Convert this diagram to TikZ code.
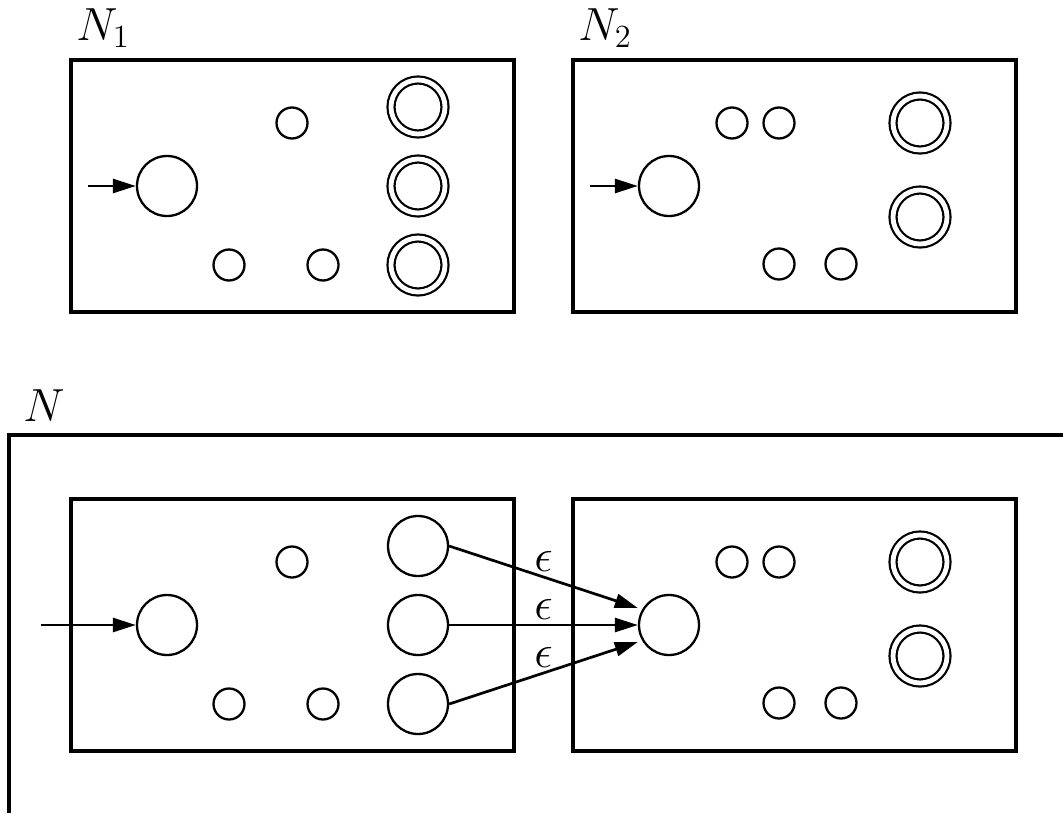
\documentclass[tikz,border=0pt]{standalone}
\usepackage{graphicx}
\usetikzlibrary{arrows.meta}
\newcommand{\biglbl}[1]{\scalebox{1.12}{#1}}
\begin{document}
\begin{tikzpicture}[x=0.5pt,y=-0.5pt,
  box/.style={draw, line width=2pt, rectangle, minimum width=221.5pt, minimum height=126pt, inner sep=0pt},
  big/.style={draw, circle, line width=1.15pt, minimum size=30pt, inner sep=0pt},
  small/.style={draw, circle, line width=1.15pt, minimum size=15.5pt, inner sep=0pt},
  acc/.style={draw, circle, line width=1.1pt, double, double distance=2.4pt, minimum size=27pt, inner sep=0pt},
  tr/.style={-{Triangle[length=11.5pt,width=7pt]}, line width=1.35pt},
  lbl/.style={font=\huge, inner sep=0pt},
  eps/.style={font=\huge, inner sep=2pt},
]
\useasboundingbox (0,0) rectangle (1063,813);

% ---------- top: N1 ----------
\node[box] (b1) at (292.5,186) {};
\node[lbl, anchor=base west] (l1) at (76,41) {\biglbl{$N_1$}};
\node[big] (s1) at (167,186) {};
\coordinate (i1) at (88,186);
\draw[tr] (i1) -- (s1);
\node[small] (p1) at (292,123) {};
\node[small] (p2) at (229,265) {};
\node[small] (p3) at (323,265) {};
\node[acc] (f1) at (418,107) {};
\node[acc] (f2) at (418,186) {};
\node[acc] (f3) at (418,265) {};

% ---------- top: N2 ----------
\node[box] (b2) at (794.5,186) {};
\node[lbl, anchor=base west] (l2) at (578,41) {\biglbl{$N_2$}};
\node[big] (s2) at (669,186) {};
\coordinate (i2) at (590,186);
\draw[tr] (i2) -- (s2);
\node[small] (q1) at (732,123) {};
\node[small] (q2) at (779,123) {};
\node[small] (q3) at (779,264) {};
\node[small] (q4) at (841,264) {};
\node[acc] (g1) at (920,123) {};
\node[acc] (g2) at (920,217) {};

% ---------- bottom: N ----------
\node[lbl, anchor=base west] (l3) at (23,421) {\biglbl{$N$}};
\coordinate (nb) at (9,813);
\coordinate (ntl) at (9,435);
\coordinate (nr) at (1063,435);
\draw[line width=2pt] (nb) -- (ntl) -- (nr);

\node[box] (b3) at (292.5,625) {};
\node[big] (s3) at (167,625) {};
\coordinate (i3) at (41,625);
\draw[tr] (i3) -- (s3);
\node[small] (p4) at (292,562) {};
\node[small] (p5) at (229,704) {};
\node[small] (p6) at (323,704) {};
\node[big] (e1) at (418,546) {};
\node[big] (e2) at (418,625) {};
\node[big] (e3) at (418,704) {};

\node[box] (b4) at (794.5,625) {};
\node[big] (s4) at (669,625) {};
\node[small] (q5) at (732,562) {};
\node[small] (q6) at (779,562) {};
\node[small] (q7) at (779,703) {};
\node[small] (q8) at (841,703) {};
\node[acc] (g3) at (920,562) {};
\node[acc] (g4) at (920,656) {};

\draw[tr] (e1.east) -- node[midway, above, eps] {\biglbl{$\epsilon$}} ([yshift=8.5pt]s4.west);
\draw[tr] (e2.east) -- node[midway, above, eps] {\biglbl{$\epsilon$}} (s4.west);
\draw[tr] (e3.east) -- node[midway, above, eps] {\biglbl{$\epsilon$}} ([yshift=-8.5pt]s4.west);
\end{tikzpicture}
\end{document}
